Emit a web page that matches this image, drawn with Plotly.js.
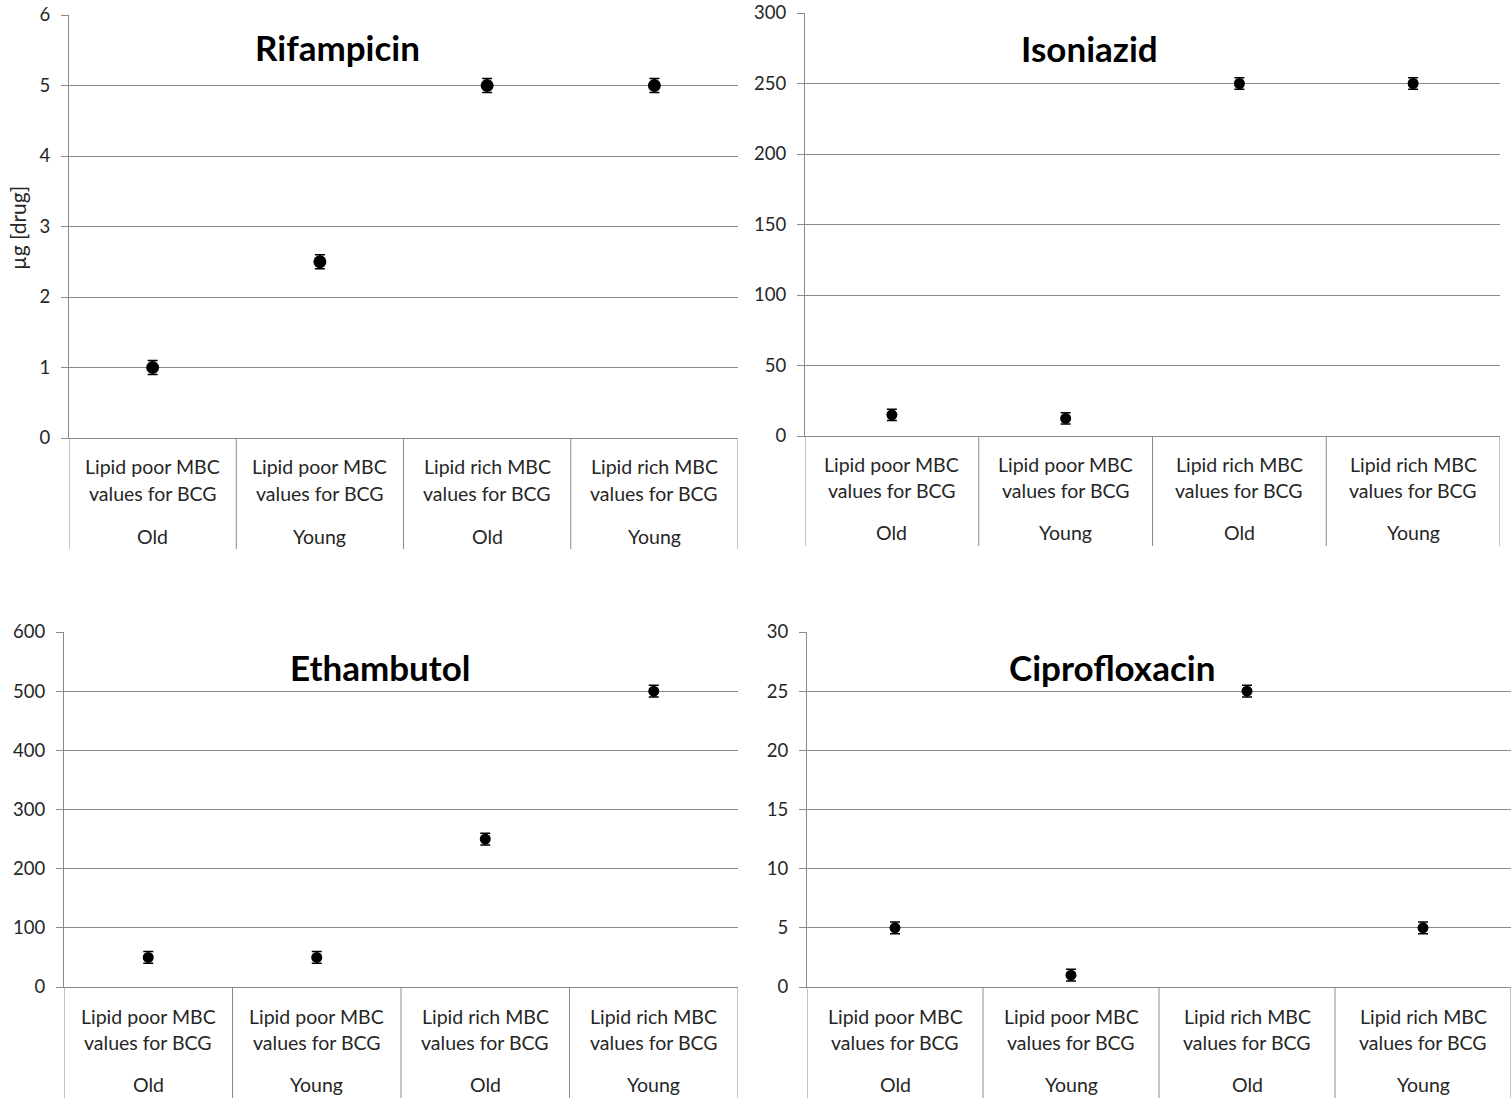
<!DOCTYPE html>
<html>
<head>
<meta charset="utf-8">
<script src="https://cdn.plot.ly/plotly-3.0.1.min.js"></script>
<style>html,body{margin:0;padding:0;background:#fff}#chart{width:1511px;height:1101px}</style>
</head>
<body>
<div id="chart"></div>
<script>
// ---- data ----
const groups = ["Lipid poor MBC values for BCG", "Lipid poor MBC values for BCG", "Lipid rich MBC values for BCG", "Lipid rich MBC values for BCG"];
const ages = ["Old", "Young", "Old", "Young"];
const drugs = ["Rifampicin", "Isoniazid", "Ethambutol", "Ciprofloxacin"];
const rifampicin = [1, 2.5, 5, 5];
const rifampicinErr = [0.1, 0.1, 0.1, 0.1];
const isoniazid = [15, 12.5, 250, 250];
const isoniazidErr = [4, 4, 4, 4];
const ethambutol = [50, 50, 250, 500];
const ethambutolErr = [10, 10, 10, 10];
const ciprofloxacin = [5, 1, 25, 5];
const ciprofloxacinErr = [0.5, 0.5, 0.5, 0.5];
const yMax = [6, 300, 600, 30];
const yStep = [1, 50, 100, 5];
const yTitle = "µg [drug]";

// ---- layout geometry (pixels) ----
const W = 1511, H = 1101;
const panels = [
  {x0: 69, x1: 738, top: 15, bottom: 438, sepBottom: 549, lab1: 467, lab2: 493, lab3: 536, tx: 337, ty: 47, msize: 13},
  {x0: 805, x1: 1500, top: 13, bottom: 436, sepBottom: 546, lab1: 464, lab2: 490, lab3: 533, tx: 1089, ty: 48, msize: 11},
  {x0: 64, x1: 738, top: 632, bottom: 987, sepBottom: 1098, lab1: 1016, lab2: 1042, lab3: 1084, tx: 380, ty: 667, msize: 11},
  {x0: 807, x1: 1511, top: 632, bottom: 987, sepBottom: 1098, lab1: 1016, lab2: 1042, lab3: 1084, tx: 1112, ty: 667, msize: 11}
];
const series = [rifampicin, isoniazid, ethambutol, ciprofloxacin];
const errs = [rifampicinErr, isoniazidErr, ethambutolErr, ciprofloxacinErr];

const px = v => v / W;
const py = v => 1 - v / H;
const gridColor = "#8a8a8a";
const textColor = "#262626";
const FONT = "Lato, 'Open Sans', sans-serif";

const traces = [];
const layout = {
  width: W, height: H,
  margin: {l: 0, r: 0, t: 0, b: 0},
  paper_bgcolor: "#fff", plot_bgcolor: "#fff",
  showlegend: false,
  font: {family: FONT, color: textColor, size: 18},
  shapes: [], annotations: []
};

const xIdx = ages.map((_, i) => i + 1);

panels.forEach((p, k) => {
  const sfx = k === 0 ? "" : String(k + 1);
  const xa = "x" + sfx, ya = "y" + sfx;
  traces.push({
    type: "scatter", mode: "markers",
    x: xIdx, y: series[k],
    xaxis: xa, yaxis: ya,
    marker: {color: "#000", size: p.msize, symbol: "circle"},
    error_y: {type: "data", array: errs[k], visible: true, color: "#000", thickness: 1.5, width: 5},
    cliponaxis: false,
    hoverinfo: "y"
  });
  layout["xaxis" + sfx] = {
    domain: [px(p.x0), px(p.x1)], anchor: ya,
    range: [0.5, ages.length + 0.5],
    showgrid: false, zeroline: false, showticklabels: false, ticks: "",
    showline: true, linecolor: gridColor, linewidth: 1, fixedrange: true
  };
  layout["yaxis" + sfx] = {
    domain: [py(p.bottom), py(p.top)], anchor: xa,
    range: [0, yMax[k]], dtick: yStep[k], tick0: 0,
    showgrid: true, gridcolor: gridColor, gridwidth: 1,
    zeroline: false, showline: true, linecolor: gridColor, linewidth: 1,
    ticks: "outside", ticklen: 7, tickcolor: gridColor, tickwidth: 1,
    ticklabelstandoff: 7,
    tickfont: {family: FONT, size: 18.5, color: textColor},
    fixedrange: true
  };
  // category separators (extend below the axis)
  for (let i = 0; i <= ages.length; i++) {
    layout.shapes.push({
      type: "line", xref: xa, yref: "paper",
      x0: i + 0.5, x1: i + 0.5, y0: py(p.bottom), y1: py(p.sepBottom),
      line: {color: gridColor, width: 1}
    });
  }
  // category labels
  groups.forEach((g, i) => {
    const cut = g.indexOf(" values");
    const l1 = g.slice(0, cut), l2 = g.slice(cut + 1);
    [[l1, p.lab1], [l2, p.lab2], [ages[i], p.lab3]].forEach(([t, yy]) => {
      layout.annotations.push({
        xref: xa, yref: "paper", x: i + 1, y: py(yy),
        text: t, showarrow: false, xanchor: "center", yanchor: "middle",
        font: {family: FONT, size: 19.5, color: textColor}
      });
    });
  });
  // chart title
  layout.annotations.push({
    xref: "paper", yref: "paper", x: px(p.tx), y: py(p.ty),
    text: "<b>" + drugs[k] + "</b>", showarrow: false, xanchor: "center", yanchor: "middle",
    font: {family: FONT, size: 35, color: "#000"}
  });
});

// y axis title (first panel)
layout.annotations.push({
  xref: "paper", yref: "paper", x: px(18), y: py(228),
  text: yTitle, textangle: -90, showarrow: false, xanchor: "center", yanchor: "middle",
  font: {family: FONT, size: 21, color: textColor}
});

Plotly.newPlot("chart", traces, layout, {displayModeBar: false, staticPlot: true});
</script>
</body>
</html>
